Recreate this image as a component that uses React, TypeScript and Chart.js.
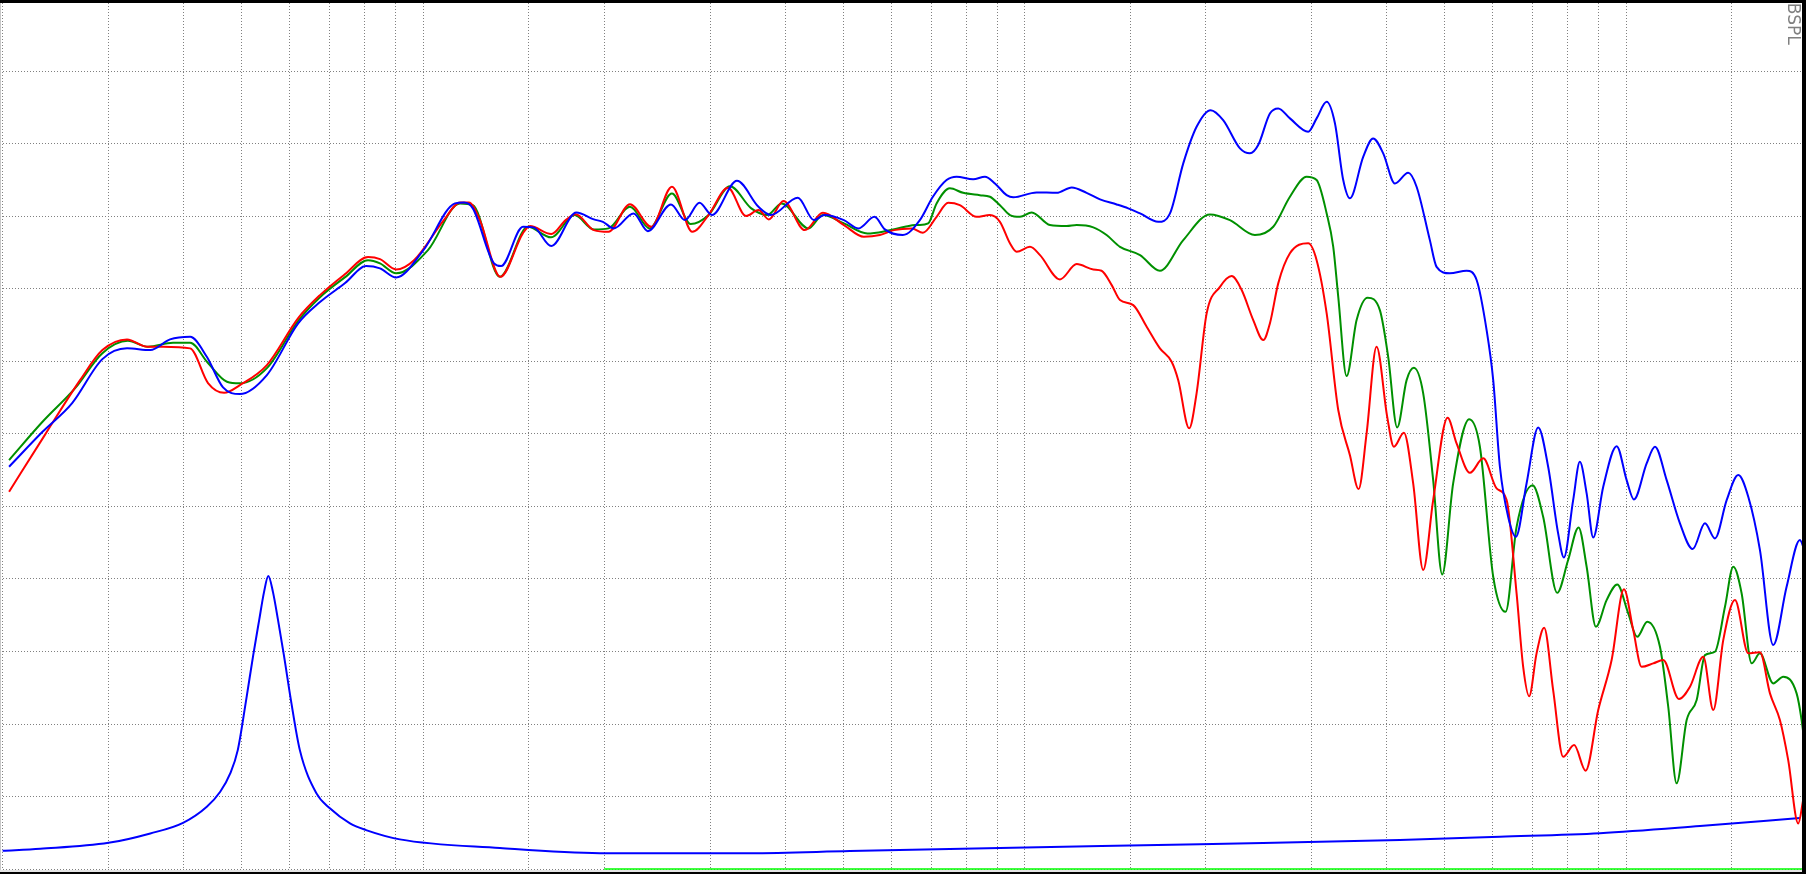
import React, { useEffect, useRef } from "react";
import { Chart, registerables } from "chart.js";

Chart.register(...registerables);

// Grid (tick) positions
const FREQ_GRID = [20, 30, 40, 50, 60, 70, 80, 90, 100, 150, 200, 300, 400, 500, 600, 700, 800, 900, 1000, 1500, 2000, 3000, 4000, 5000, 6000, 7000, 8000, 9000, 10000, 15000, 20000];
const DB_GRID = [40, 45, 50, 55, 60, 65, 70, 75, 80, 85, 90, 95];
const X_MIN = 19.8;
const X_MAX = 19915;
const Y_MIN = 39.87;
const Y_MAX = 99.9;
const AXIS_LABEL = "dBSPL";

// Red response
const redFreq = [20.5, 23.5, 26.9, 29.3, 32.2, 34.8, 37.0, 41.0, 43.9, 46.7,
  49.6, 55.0, 62.0, 67.4, 74.2, 81.0, 84.8, 90.2, 96.6, 108.3,
  115.2, 119.2, 124.3, 134.4, 146.6, 150.6, 163.4, 172.6, 179.3, 192.3,
  203.4, 220.8, 239.6, 259.3, 280.4, 298.3, 321.3, 344.2, 361.1, 375.8,
  397.4, 431.3, 462.1, 500.8, 540.6, 574.8, 606.5, 649.7, 677.6, 714.1,
  746.5, 780.6, 832.2, 875.9, 910.1, 945.6, 970.2, 1021, 1061, 1145,
  1221, 1301, 1343, 1396, 1441, 1516, 1596, 1679, 1756, 1801,
  1878, 1932, 2008, 2113, 2209, 2296, 2400, 2494, 2558, 2641,
  2762, 2962, 3059, 3179, 3323, 3475, 3592, 3704, 3848, 4008,
  4112, 4272, 4427, 4600, 4779, 5050, 5227, 5501, 5788, 6092,
  6331, 6577, 6745, 6901, 7100, 7309, 7565, 7861, 8198, 8566,
  8990, 9463, 9920, 10279, 10615, 11097, 11530, 12245, 12773, 13440,
  13964, 14508, 15174, 15966, 16697, 17349, 18022, 18604, 19330, 19704];
const redDb = [66.01, 69.91, 73.70, 75.77, 76.51, 76.0, 76.0, 75.89, 73.50, 72.83,
  73.36, 74.74, 77.98, 79.56, 81.01, 82.18, 82.04, 81.33, 81.97, 84.73,
  85.95, 85.95, 84.73, 80.82, 83.83, 84.32, 83.77, 84.73, 85.14, 84.04,
  83.92, 85.83, 84.27, 87.03, 83.92, 85.08, 86.96, 85.01, 85.42, 84.78,
  86.04, 84.04, 85.23, 84.39, 83.58, 83.70, 84.04, 84.16, 83.86, 84.96,
  85.92, 85.76, 84.96, 85.08, 84.61, 83.13, 82.55, 82.89, 82.32, 80.64,
  81.70, 81.33, 81.24, 80.25, 79.22, 78.87, 77.38, 75.89, 74.97, 73.70,
  70.38, 72.79, 78.30, 80.13, 80.87, 79.91, 77.84, 76.46, 77.61, 80.37,
  82.44, 83.13, 81.97, 78.30, 71.64, 68.53, 66.19, 70.03, 76.0, 71.17,
  69.11, 70.07, 66.58, 60.61, 65.43, 71.11, 69.34, 67.31, 68.31, 66.24,
  65.43, 59.0, 53.94, 51.92, 54.87, 56.63, 52.34, 47.74, 48.55, 46.78,
  50.96, 54.41, 59.28, 56.47, 53.94, 54.18, 54.41, 51.72, 52.57, 54.63,
  50.96, 55.78, 58.54, 54.87, 54.94, 52.11, 50.27, 47.51, 43.15, 44.76];

// Green response
const greenFreq = [20.5, 23.3, 26.4, 29.3, 32.3, 34.9, 38.4, 41.0, 43.9, 47.2,
  49.6, 55.0, 62.0, 67.4, 74.2, 81.0, 84.8, 90.2, 101.9, 115.2,
  121.0, 134.2, 149.4, 163.2, 178.6, 192.3, 203.4, 220.8, 238.0, 259.3,
  278.5, 298.3, 323.8, 351.3, 373.6, 394.7, 437.3, 462.1, 500.8, 547.9,
  590.5, 632.6, 659.0, 669.8, 691.5, 714.1, 751.4, 790.5, 842.7, 875.9,
  910.1, 945.6, 982.6, 1028, 1102, 1175, 1221, 1301, 1369, 1441,
  1556, 1679, 1836, 2033, 2195, 2415, 2591, 2762, 2944, 3059,
  3179, 3260, 3323, 3431, 3565, 3718, 3897, 4023, 4164, 4317,
  4439, 4600, 4779, 4947, 5159, 5486, 5715, 6014, 6306, 6577,
  6992, 7281, 7682, 8012, 8338, 8600, 8911, 9283, 9669, 10084,
  10438, 10845, 11386, 11753, 12137, 12612, 13104, 13527, 14055, 14604,
  15075, 15567, 16175, 16697, 17566, 18252, 19212, 19584, 19832];
const greenDb = [68.19, 70.83, 73.15, 75.56, 76.41, 76.0, 76.27, 76.27, 74.88, 73.59,
  73.48, 74.53, 77.79, 79.42, 80.8, 81.97, 81.75, 81.06, 82.66, 85.88,
  85.76, 80.82, 84.27, 83.54, 85.08, 84.09, 84.16, 85.65, 84.16, 86.57,
  84.46, 85.08, 87.07, 85.54, 85.08, 85.88, 84.16, 85.08, 84.5, 83.81,
  83.99, 84.27, 84.39, 84.39, 84.5, 85.88, 86.92, 86.61, 86.45, 86.34,
  85.76, 85.08, 84.96, 85.26, 84.39, 84.32, 84.39, 84.23, 83.70, 82.89,
  82.32, 81.24, 83.35, 85.12, 84.73, 83.70, 84.27, 86.34, 87.72, 87.49,
  85.19, 82.89, 79.44, 73.98, 77.84, 79.38, 78.53, 75.31, 70.44, 73.70,
  74.55, 72.79, 66.81, 60.31, 66.58, 71.0, 69.11, 60.15, 57.73, 63.59,
  66.45, 64.28, 59.04, 61.30, 63.55, 60.84, 56.70, 58.54, 59.62, 57.62,
  56.01, 57.05, 55.32, 51.19, 45.91, 50.27, 51.65, 54.75, 54.98, 58.08,
  60.84, 59.0, 54.18, 54.87, 52.8, 53.26, 52.11, 50.27, 48.43];

// Blue response
const blueFreq = [20.5, 23.3, 26.1, 29.3, 32.2, 35.2, 37.96, 41.0, 43.7, 46.5,
  49.6, 55.0, 62.0, 67.4, 74.2, 80.4, 84.8, 90.2, 100, 113.0,
  117.0, 121.0, 131.2, 134.8, 146.6, 152.7, 163.4, 179.8, 192.3, 199.1,
  207.6, 223.8, 236.5, 258.3, 272.5, 288.2, 302.2, 332.6, 361.1, 378.7,
  419.9, 446.4, 464.9, 500.8, 529.6, 563.0, 585.9, 627.7, 669.8, 704.1,
  741.9, 770.9, 821.4, 859.3, 892.8, 933.8, 957.7, 1047, 1131, 1198,
  1268, 1335, 1423, 1487, 1556, 1668, 1745, 1836, 1932, 2039,
  2139, 2281, 2370, 2446, 2558, 2641, 2762, 2962, 3059, 3179,
  3281, 3387, 3475, 3656, 3798, 3947, 4128, 4343, 4485, 4719,
  4842, 5094, 5432, 5644, 5864, 6014, 6170, 6368, 6559, 6833,
  7144, 7422, 7711, 7882, 8167, 8379, 8600, 8819, 9164, 9647,
  10023, 10307, 10821, 11170, 11682, 12292, 12905, 13527, 14055, 14699,
  15366, 15966, 16697, 17566, 18490, 19456, 19832];
const blueDb = [67.73, 70.14, 72.12, 75.15, 75.89, 75.77, 76.51, 76.69, 75.31, 73.2,
  72.74, 74.05, 77.61, 79.08, 80.39, 81.56, 81.4, 80.78, 82.62, 85.88,
  85.95, 85.54, 81.75, 81.56, 84.27, 84.23, 82.94, 85.26, 84.78, 84.61,
  84.16, 85.19, 83.97, 85.81, 84.73, 85.92, 85.08, 87.44, 85.65, 85.08,
  86.27, 84.73, 85.08, 84.73, 84.16, 84.96, 84.09, 83.70, 84.73, 86.34,
  87.49, 87.72, 87.54, 87.72, 87.26, 86.45, 86.3, 86.64, 86.61, 86.98,
  86.61, 86.16, 85.81, 85.54, 85.19, 84.61, 85.19, 88.64, 91.16, 92.31,
  91.62, 89.67, 89.33, 89.9, 92.08, 92.43, 91.74, 90.82, 91.74, 92.88,
  91.4, 87.49, 86.23, 89.09, 90.36, 89.33, 87.26, 87.99, 87.03, 83.35,
  81.51, 81.06, 81.24, 80.6, 77.15, 73.7, 67.73, 64.28, 62.9, 66.58,
  70.44, 67.73, 63.14, 61.48, 65.43, 68.07, 65.9, 62.86, 66.35, 69.15,
  66.81, 65.48, 67.96, 69.11, 66.81, 63.83, 62.06, 63.83, 62.79, 65.43,
  67.16, 65.66, 61.99, 55.44, 59.46, 62.68, 61.87];

// Impedance curve (lower blue)
const impFreq = [20, 23.1, 30, 35.2, 39.9, 43.7, 46.0, 47.8, 49.2, 50.8,
  52.2, 53.4, 54.4, 55.3, 56.3, 57.4, 58.7, 60.3, 62.4, 66.5,
  70, 75.6, 80.4, 91.5, 134.2, 196.8, 349.4, 512.4, 910.1, 1957,
  4207, 6170, 9048, 13271, 19456];
const impVal = [41.26, 41.4, 41.81, 42.46, 43.19, 44.30, 45.33, 46.6, 48.2, 51.65,
  54.75, 57.16, 59.09, 60.2, 59.09, 57.16, 54.75, 51.65, 48.2, 45.22,
  44.19, 43.15, 42.69, 42.05, 41.45, 41.1, 41.1, 41.24, 41.45, 41.72,
  42.0, 42.23, 42.48, 42.97, 43.52];

// Green reference line at the bottom
const refFreq = [200, 20000];
const refVal = [40, 40];

const pts = (f: number[], v: number[]) => f.map((x, i) => ({ x, y: v[i] }));

const framePlugin = {
  id: "frame",
  afterDraw(chart: any) {
    const ctx = chart.ctx;
    const W = chart.width;
    const H = chart.height;
    ctx.save();
    // rotated unit label at the top right (partly hidden under the frame)
    ctx.translate(W - 18, -8);
    ctx.rotate(Math.PI / 2);
    ctx.fillStyle = "#808080";
    ctx.font = '17px "DejaVu Sans"';
    ctx.textBaseline = "alphabetic";
    ctx.fillText(AXIS_LABEL, 0, 0);
    ctx.restore();
    ctx.save();
    ctx.fillStyle = "#c8c8c8";
    ctx.fillRect(0, 0, 1, H);
    ctx.fillStyle = "#e4e4e4";
    ctx.fillRect(0, H - 4, W, 2);
    ctx.fillStyle = "#000000";
    ctx.fillRect(0, 0, W, 3);
    ctx.fillRect(W - 4, 0, 4, H);
    ctx.fillRect(0, H - 2, W, 2);
    ctx.restore();
  },
};

export default function App() {
  const ref = useRef<HTMLCanvasElement | null>(null);
  useEffect(() => {
    if (!ref.current) return;
    const gridCommon = {
      ticks: { display: false, autoSkip: false },
      grid: { color: "#808080", lineWidth: 1, drawTicks: false },
      border: { display: false, dash: [1, 2] },
    };
    const line = (data: any, color: string, width: number, order: number) => ({
      data,
      borderColor: color,
      backgroundColor: color,
      borderWidth: width,
      pointRadius: 0,
      fill: false,
      cubicInterpolationMode: "monotone" as const,
      order,
    });
    const chart = new Chart(ref.current, {
      type: "line",
      data: {
        datasets: [
          line(pts(blueFreq, blueDb), "#0000ff", 2, 0),
          line(pts(redFreq, redDb), "#ff0000", 2, 1),
          line(pts(greenFreq, greenDb), "#009000", 2, 2),
          line(pts(impFreq, impVal), "#0000ff", 2, 3),
          line(pts(refFreq, refVal), "#00ff00", 1.5, 4),
        ],
      },
      options: {
        animation: false,
        responsive: false,
        devicePixelRatio: 1,
        maintainAspectRatio: false,
        layout: { padding: { left: 0, right: 0, top: 0, bottom: 3 } },
        plugins: { legend: { display: false }, tooltip: { enabled: false } },
        scales: {
          x: {
            type: "logarithmic",
            min: X_MIN,
            max: X_MAX,
            ...gridCommon,
            afterBuildTicks: (s: any) => {
              s.ticks = FREQ_GRID.map((v) => ({ value: v }));
            },
          },
          y: {
            type: "linear",
            min: Y_MIN,
            max: Y_MAX,
            ...gridCommon,
            afterBuildTicks: (s: any) => {
              s.ticks = DB_GRID.map((v) => ({ value: v }));
            },
          },
        },
      },
      plugins: [framePlugin],
    });
    return () => chart.destroy();
  }, []);
  return (
    <div style={{ position: "absolute", left: 0, top: 0, width: 1806, height: 874, background: "#fff" }}>
      <canvas ref={ref} width={1806} height={874} style={{ display: "block" }} />
    </div>
  );
}
